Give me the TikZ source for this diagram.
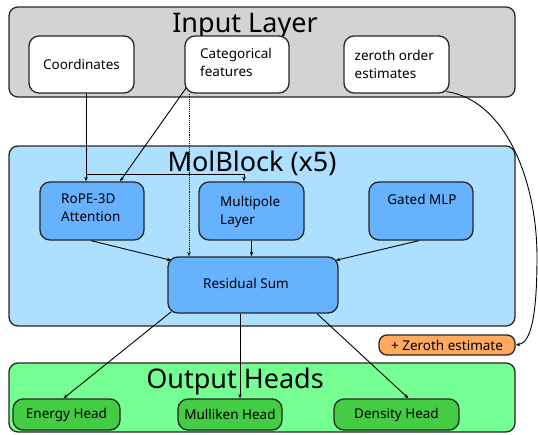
\documentclass[tikz,border=0pt]{standalone}
\usepackage{fontspec}
\setmainfont{Noto Sans}
\usetikzlibrary{arrows.meta}
\definecolor{inpgray}{HTML}{D3D3D3}
\definecolor{molblue}{HTML}{ADDFFF}
\definecolor{nodeblue}{HTML}{66B2FF}
\definecolor{zorange}{HTML}{FFAA5F}
\definecolor{outgreen}{HTML}{75FF92}
\definecolor{nodegreen}{HTML}{45CC45}
\tikzset{
  group/.style={draw=black!85, line width=1.3pt, rounded corners=9pt, inner sep=0pt},
  box/.style={draw=black!85, line width=1.3pt, rounded corners=10pt, inner sep=0pt, font=\fontsize{13.5}{18}\selectfont},
  txt/.style={inner sep=0pt, align=left, font=\fontsize{13.5}{18}\selectfont},
  ttl/.style={inner sep=0pt, anchor=base, font=\fontsize{27}{30}\selectfont},
  arr/.style={line width=0.9pt, -{Stealth[length=4.5pt,width=3.5pt]}},
}
\begin{document}
\begin{tikzpicture}[x=1pt,y=-1pt]
\useasboundingbox (0,0) rectangle (538,434);
% groups
\node[group, fill=inpgray, minimum width=506pt, minimum height=90pt] (inp) at (262,52) {};
\node[group, fill=molblue, minimum width=506pt, minimum height=180pt] (mol) at (262,236) {};
\node[group, fill=outgreen, minimum width=506pt, minimum height=69pt] (out) at (262,397.5) {};
\node[ttl] (inpT) at (245,32.5) {Input Layer};
\node[ttl] (molT) at (252,171.5) {MolBlock (x5)};
% input nodes
\node[box, fill=white, minimum width=105pt, minimum height=57pt] (coord) at (81.5,64.5) {Coordinates};
\node[box, fill=white, minimum width=104pt, minimum height=57pt] (cat) at (237,64.5) {};
\node[txt, anchor=west] (catT) at (200,62.5) {Categorical\\features};
\node[box, fill=white, minimum width=105pt, minimum height=57pt] (zero) at (396.5,64.5) {};
\node[txt, anchor=west] (zeroT) at (354.5,64) {zeroth order\\estimates};
% molblock nodes
\node[box, fill=nodeblue, minimum width=104pt, minimum height=58pt] (rope) at (92,211) {};
\node[txt, anchor=west] (ropeT) at (61,207.5) {RoPE-3D\\Attention};
\node[box, fill=nodeblue, minimum width=105pt, minimum height=58pt] (mp) at (251.5,211) {};
\node[txt, anchor=west] (mpT) at (220,212) {Multipole\\Layer};
\node[box, fill=nodeblue, minimum width=104pt, minimum height=58pt] (gmlp) at (421,211) {};
\node[txt] (gmlpT) at (422,199) {Gated MLP};
\node[box, fill=nodeblue, minimum width=170pt, minimum height=56pt] (res) at (253,285) {};
\node[txt] (resT) at (246,283) {Residual Sum};
% orange
\node[box, fill=zorange, rounded corners=8pt, minimum width=136pt, minimum height=20pt] (zest) at (447,345) {+ Zeroth estimate};
% output nodes
\node[ttl] (outT) at (235,388) {Output Heads};
\node[box, fill=nodegreen, minimum width=107pt, minimum height=31pt] (energy) at (66.5,414.5) {Energy Head};
\node[box, fill=nodegreen, minimum width=104pt, minimum height=31pt] (mull) at (230,414.5) {Mulliken Head};
\node[box, fill=nodegreen, minimum width=125pt, minimum height=31pt] (dens) at (396.5,414.5) {Density Head};
% connectors
\coordinate (jc) at (86,174);
\coordinate (jm) at (244,174);
\draw[arr] (coord.south -| jc) -- (jc |- rope.north);
\draw[arr] (jc) -- (jm) -- (jm |- mp.north);
\draw[arr] ([xshift=2pt,yshift=6pt]cat.south west) -- ([xshift=28pt]rope.north);
\draw[arr, densely dotted] ([xshift=-48pt]cat.south) -- ([xshift=-48pt]cat.south |- res.north);
\draw[arr] ([xshift=-1pt]rope.south) -- ([xshift=4pt,yshift=-4pt]res.north west);
\draw[arr] (mp.south) -- (mp.south |- res.north);
\draw[arr] ([xshift=-2pt]gmlp.south) -- ([xshift=-3pt,yshift=-4pt]res.north east);
\draw[arr] ([xshift=4pt,yshift=2pt]res.south west) -- ([xshift=-3pt]energy.north);
\draw[arr] ([xshift=-13pt]res.south) -- ([xshift=10pt]mull.north);
\draw[arr] ([xshift=64pt]res.south) -- ([xshift=12pt]dens.north);
\draw[arr] ([xshift=-3pt,yshift=2pt]zero.south east) .. controls (505,100) and (537,180) .. (537,257) .. controls (537,320) and (530,343) .. (zest.east);
\end{tikzpicture}
\end{document}
